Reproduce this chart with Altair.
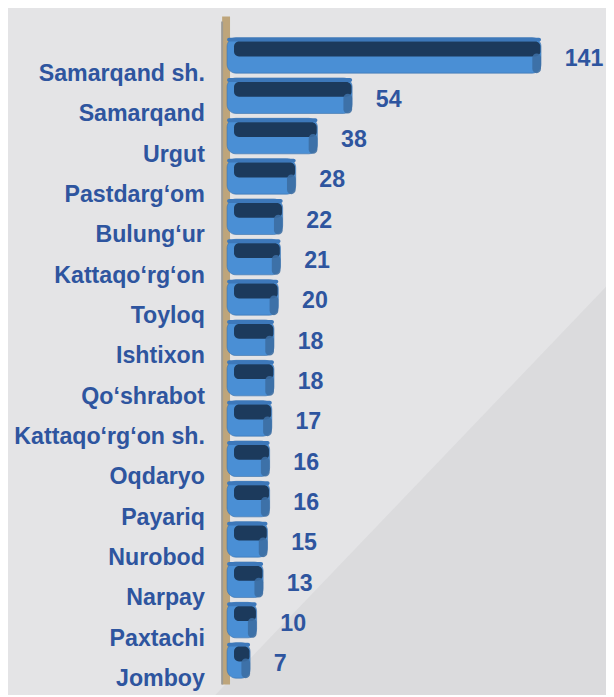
import altair as alt
import pandas as pd

categories = [
    "Samarqand sh.", "Samarqand", "Urgut", "Pastdarg‘om", "Bulung‘ur",
    "Kattaqo‘rg‘on\u00a0", "Toyloq", "Ishtixon", "Qo‘shrabot", "Kattaqo‘rg‘on sh.",
    "Oqdaryo", "Payariq", "Nurobod", "Narpay", "Paxtachi", "Jomboy",
]
values = [141, 54, 38, 28, 22, 21, 20, 18, 18, 17, 16, 16, 15, 13, 10, 7]

df = pd.DataFrame({"district": categories, "value": values})

FONT = "Liberation Sans"
TXT = "#2e559f"
XMIN, XMAX = -3.6, 167.3
W, H = 376, 654

xs = alt.Scale(domain=[XMIN, XMAX], nice=False, zero=False)
ys = alt.Scale(domain=categories, paddingInner=0, paddingOuter=0)

y_axis = alt.Axis(
    title=None, domain=False, ticks=False, tickSize=0, labelPadding=23,
    labelOffset=19, labelFont=FONT, labelFontSize=23.5, labelFontWeight="bold",
    labelColor=TXT, labelLimit=400, labelAlign="right", grid=False,
)


def Y():
    return alt.Y("district:N", sort=categories, scale=ys, axis=y_axis)


base = alt.Chart(df)
one = pd.DataFrame({"k": [0]})

shade = alt.Chart(one).mark_rule(color="#dbdbdd", strokeWidth=400, strokeCap="butt").encode(
    x=alt.value(724), y=alt.value(189), x2=alt.value(-61), y2=alt.value(1009)
)

wall = alt.Chart(one).mark_rect(color="#bea57b").encode(
    x=alt.value(-5), x2=alt.value(3), y=alt.value(-19), y2=alt.value(H + 4)
)
wall_edge = alt.Chart(one).mark_rect(color="#9d9a94").encode(
    x=alt.value(-6), x2=alt.value(-4), y=alt.value(-14), y2=alt.value(H + 4)
)

body = base.mark_bar(size=36, color="#4a8fd5", cornerRadiusEnd=9,
                     stroke="#3a70ab", strokeWidth=0.6).encode(
    y=Y(),
    x=alt.X("value:Q", scale=xs, axis=None),
    x2=alt.datum(XMIN),
)

rim = base.mark_bar(size=4, yOffset=-16, color="#3d78ba", cornerRadiusEnd=3).encode(
    y=Y(),
    x=alt.X("value:Q", scale=xs, axis=None),
    x2=alt.datum(XMIN),
)

band = base.transform_calculate(e="datum.value - 0.3").mark_bar(
    size=15, yOffset=-6.5, color="#1c3a5c", cornerRadiusEnd=5
).encode(
    y=Y(),
    x=alt.X("e:Q", scale=xs, axis=None),
    x2=alt.datum(-0.4),
)

cap = base.transform_calculate(s="datum.value - 4").mark_bar(
    size=20, yOffset=8, color="#3c6ea3", cornerRadiusEnd=8, opacity=0.9
).encode(
    y=Y(),
    x=alt.X("value:Q", scale=xs, axis=None),
    x2=alt.X2("s:Q"),
)

labels = base.mark_text(
    align="left", baseline="middle", dx=24, dy=4, font=FONT, fontSize=23.5,
    fontWeight="bold", color=TXT,
).encode(
    y=Y(),
    x=alt.X("value:Q", scale=xs, axis=None),
    text=alt.Text("value:Q"),
)

chart = alt.layer(shade, wall, wall_edge, body, rim, band, cap, labels).properties(
    width=W, height=H,
    autosize=alt.AutoSizeParams(type="none"),
    padding={"left": 222, "top": 23, "right": 8, "bottom": 10},
    background="#e4e4e6",
).configure_view(stroke=None)

chart.save("out.html", embed_options={"renderer": "svg", "actions": False})
